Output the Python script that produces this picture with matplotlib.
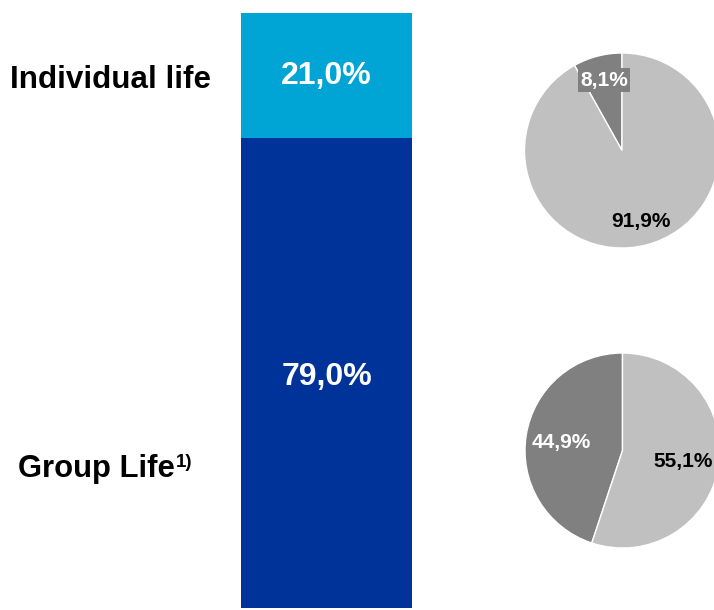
import matplotlib
matplotlib.use("Agg")
import matplotlib.pyplot as plt

plt.rcParams['font.family'] = ['Liberation Sans', 'DejaVu Sans']

# Data
segments = ["Group Life", "Individual life"]
footnote = "1)"
bar_values = [79.0, 21.0]
bar_labels = ["79,0%", "21,0%"]
bar_colors = ["#003399", "#00A5D6"]

pie_individual = [8.1, 91.9]
pie_individual_labels = ["8,1%", "91,9%"]
pie_group = [44.9, 55.1]
pie_group_labels = ["44,9%", "55,1%"]
pie_colors = ["#808080", "#C0C0C0"]

W, H = 714, 610
fig = plt.figure(figsize=(W / 100, H / 100), dpi=100)


def rect(x0, y0, x1, y1):
    """pixel box (top-left origin) -> figure fraction rect"""
    return [x0 / W, 1 - y1 / H, (x1 - x0) / W, (y1 - y0) / H]


# Stacked bar
axb = fig.add_axes(rect(241, 13, 412, 608))
bottom = 0
for v, lab, c in zip(bar_values, bar_labels, bar_colors):
    axb.bar([0], [v], bottom=bottom, width=1.0, color=c, linewidth=0)
    bottom += v
axb.set_xlim(-0.5, 0.5)
axb.set_ylim(0, 100)
axb.axis("off")
axb.text(0, 100 - bar_values[1] / 2 - 0.1, bar_labels[1], ha="center", va="center",
         color="white", fontsize=23, fontweight="bold")
axb.text(0, 38.9, bar_labels[0], ha="center", va="center",
         color="white", fontsize=23, fontweight="bold")

# Category labels
fig.text(10 / W, 1 - 88 / H, segments[1], ha="left", va="baseline",
         fontsize=22.6, fontweight="bold")
fig.text(18 / W, 1 - 477 / H, segments[0], ha="left", va="baseline",
         fontsize=22.3, fontweight="bold")
fig.text(176 / W, 1 - 467 / H, footnote, ha="left", va="baseline",
         fontsize=13.5, fontweight="bold")

# Pies
R = 97.5


def pie_axes(cx, cy):
    ax = fig.add_axes(rect(cx - R, cy - R, cx + R, cy + R))
    return ax


def finish(ax):
    ax.set_xlim(-1, 1)
    ax.set_ylim(-1, 1)
    ax.set_aspect("equal")
    ax.axis("off")


ax1 = pie_axes(622, 150.5)
ax1.pie(pie_individual, colors=pie_colors, startangle=90, counterclock=True,
        radius=1, wedgeprops=dict(linewidth=1, edgecolor="white"))
finish(ax1)
ax1.text(-0.185, 0.72, pie_individual_labels[0], ha="center", va="center",
         color="white", fontsize=15, fontweight="bold",
         bbox=dict(boxstyle="square,pad=0.12", facecolor="#808080", edgecolor="none"))
ax1.text(0.195, -0.73, pie_individual_labels[1], ha="center", va="center",
         color="black", fontsize=15, fontweight="bold")

ax2 = pie_axes(622.5, 450.5)
ax2.pie(pie_group, colors=pie_colors, startangle=90, counterclock=True,
        radius=1, wedgeprops=dict(linewidth=1, edgecolor="white"))
finish(ax2)
ax2.text(-0.63, 0.087, pie_group_labels[0], ha="center", va="center",
         color="white", fontsize=15, fontweight="bold")
ax2.text(0.62, -0.11, pie_group_labels[1], ha="center", va="center",
         color="black", fontsize=15, fontweight="bold", clip_on=False)

fig.savefig("out.png", dpi=100)
